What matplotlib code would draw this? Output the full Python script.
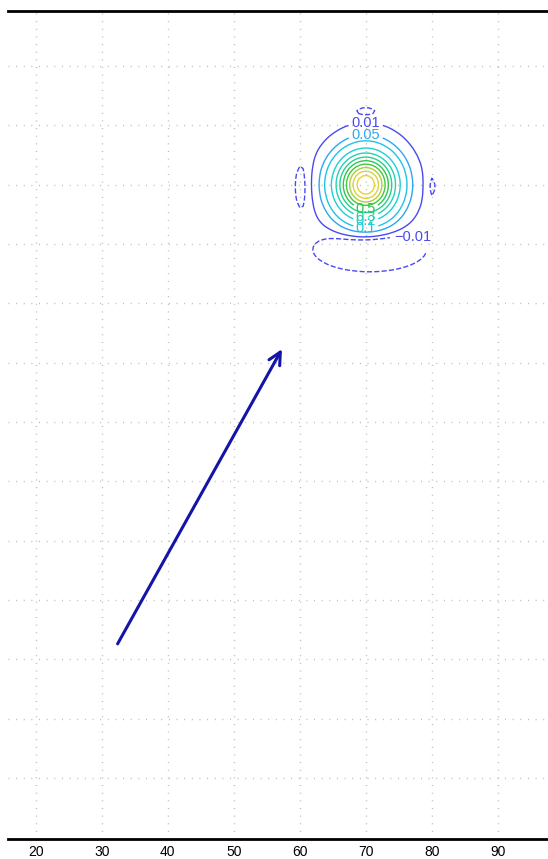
import numpy as np
import matplotlib
matplotlib.use("Agg")
import matplotlib.pyplot as plt

# --- axis setup -------------------------------------------------------------
x_limits = [15.8, 97.6]
y_limits = [-10.3, 129.3]
x_ticks = [20, 30, 40, 50, 60, 70, 80, 90]
y_grid = [0, 10, 20, 30, 40, 50, 60, 70, 80, 90, 100, 110, 120]

# --- arrow (start -> end) ---------------------------------------------------
arrow_start = [32.4, 22.6]
arrow_end = [57.3, 72.3]

# --- surface: gaussian bumps (x0, y0, sx, sy, amplitude) --------------------
bump_x0 = [70.0, 70.6, 70.0, 60.4, 80.0]
bump_y0 = [100.0, 89.1, 112.3, 99.7, 99.7]
bump_sx = [2.9, 4.8, 1.7, 1.1, 0.6]
bump_sy = [3.45, 2.1, 0.8, 4.0, 2.0]
bump_amp = [1.0, -0.05, -0.016, -0.018, -0.016]

# contour levels and their colours
levels = [-0.01, 0.01, 0.05, 0.1, 0.2, 0.3, 0.4, 0.5, 0.6, 0.7, 0.8, 0.9]
level_colors = ["#4a4af0", "#4a4af0", "#2ea6f0", "#1ec4e6", "#1ecfd6",
                "#22d2b4", "#28d08a", "#2cc850", "#46c83a", "#a8d040",
                "#dcd23c", "#e6d232"]

# labelled levels and where their labels sit
label_levels = [0.01, 0.05, 0.5, 0.3, 0.2, 0.1, -0.01]
label_pos = [(70.0, 110.3), (70.0, 108.9), (70.0, 96.0), (70.0, 94.6),
             (70.0, 93.4), (70.0, 92.4), (77.3, 91.7)]

gx = np.arange(55.0, 86.01, 0.5)
gy = np.arange(80.0, 120.01, 0.5)
X, Y = np.meshgrid(gx, gy)
Z = np.zeros_like(X)
for x0, y0, sx, sy, a in zip(bump_x0, bump_y0, bump_sx, bump_sy, bump_amp):
    Z += a * np.exp(-((X - x0) ** 2) / (2 * sx ** 2) - ((Y - y0) ** 2) / (2 * sy ** 2))

fig = plt.figure(figsize=(5.48, 8.59), dpi=100)
ax = fig.add_axes([8 / 548, 20 / 859, 540 / 548, 828 / 859])
ax.set_xlim(*x_limits)
ax.set_ylim(*y_limits)

# dotted grid
for xv in x_ticks:
    ax.axvline(xv, color="#b8b8b8", lw=1.0, ls=(0, (0.7, 4.8)), zorder=0)
for yv in y_grid:
    ax.axhline(yv, color="#b8b8b8", lw=1.0, ls=(0, (0.7, 4.8)), zorder=0)

fmt = lambda v: f"{v:g}".replace("-", "\u2212")

# each level gets its own contour set so labels can be placed per level
for lvl, col in zip(levels, level_colors):
    cs = ax.contour(X, Y, Z, levels=[lvl], colors=[col], linewidths=1.0,
                    linestyles=["--" if lvl < 0 else "-"])
    if lvl in label_levels:
        pos = label_pos[label_levels.index(lvl)]
        ax.clabel(cs, inline=True, fontsize=10.5, fmt=fmt, manual=[pos],
                  inline_spacing=1)
        for t in cs.labelTexts:
            t.set_rotation(0)
            t.set_family("Liberation Sans")

ax.annotate("", xy=arrow_end, xytext=arrow_start,
            arrowprops=dict(arrowstyle="->", color="#1414a8", lw=2.2,
                            mutation_scale=22, shrinkA=0, shrinkB=0))

ax.set_xticks(x_ticks)
ax.set_xticklabels([str(v) for v in x_ticks], fontsize=10, family="Liberation Sans")
ax.set_yticks([])
ax.tick_params(axis="x", length=0, pad=4)
ax.spines["left"].set_visible(False)
ax.spines["right"].set_visible(False)
ax.spines["top"].set_linewidth(2.0)
ax.spines["bottom"].set_linewidth(2.0)

fig.savefig("out.png", dpi=100)
